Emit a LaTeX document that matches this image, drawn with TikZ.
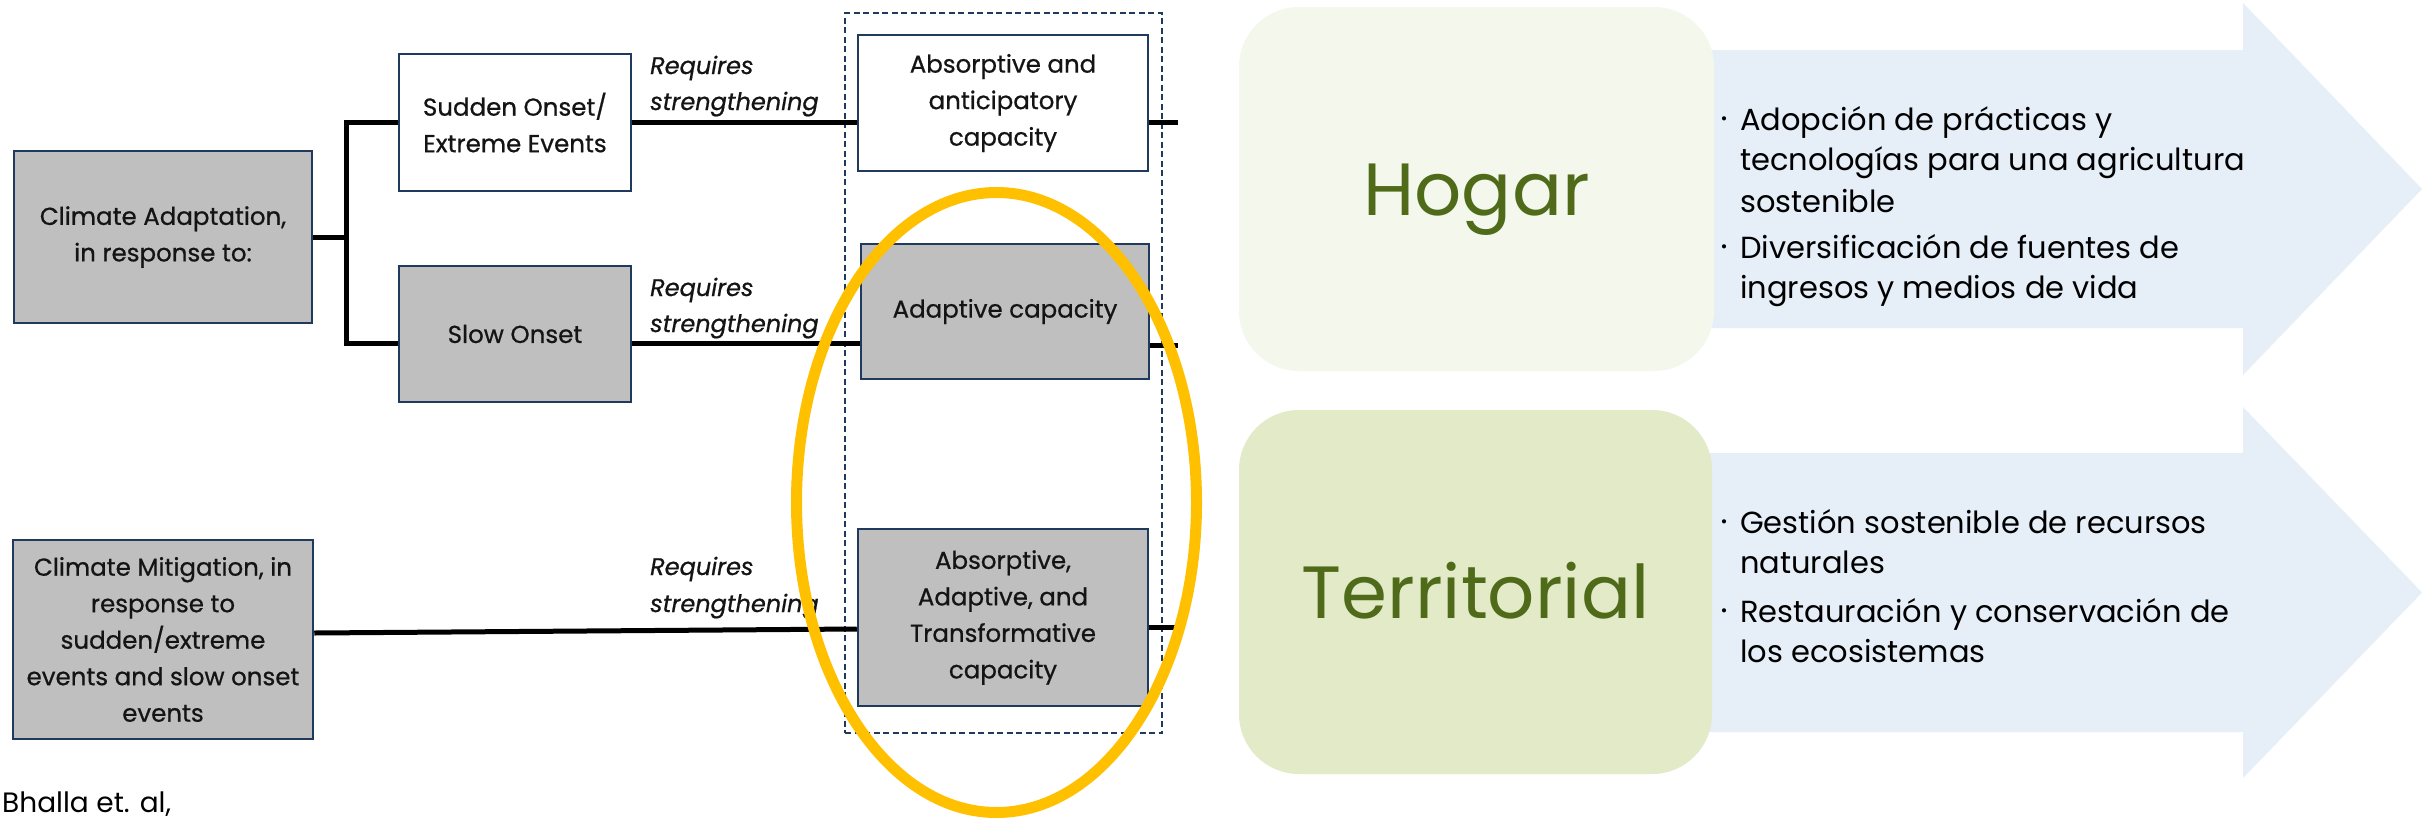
\documentclass[tikz,border=0pt]{standalone}
\usepackage{fontspec}
\setmainfont{Poppins}
\newfontfamily\lft[FakeBold=0.7]{Poppins}
\usetikzlibrary{calc}
\definecolor{navy}{HTML}{1F3A5C}
\definecolor{boxgray}{HTML}{BFBFBF}
\definecolor{ellc}{HTML}{FFC000}
\definecolor{hogarfill}{HTML}{F3F7EC}
\definecolor{terrfill}{HTML}{E2EAC8}
\definecolor{arrowc}{HTML}{E6EEF7}
\definecolor{leaf}{HTML}{4F6B1A}
\definecolor{txt}{HTML}{141414}
\begin{document}
\begin{tikzpicture}[x=1pt,y=-1pt,
  box/.style={draw=navy, line width=2.5pt, inner sep=0pt, align=center,
    font=\lft\fontsize{24.5}{36.5}\selectfont, text=txt},
  graybox/.style={box, fill=boxgray},
  whitebox/.style={box, fill=white},
  conn/.style={line width=5pt, black},
  req/.style={anchor=base west, inner sep=0pt, font=\lft\itshape\fontsize{24}{30}\selectfont, text=txt},
  cat/.style={rounded corners=60pt, inner sep=0pt, text height=52pt, text depth=0pt,
    font=\fontsize{74}{80}\selectfont, text=leaf},
  btxt/.style={anchor=base west, inner sep=0pt, font=\fontsize{30.5}{36}\selectfont, text=black},
  bul/.style={anchor=center, inner sep=0pt, font=\fontsize{17}{20}\selectfont, text=black},
]
\useasboundingbox (0,0) rectangle (2422,825);
\fill[white] (0,0) rectangle (2422,825);

% ---------- left diagram ----------
\node[graybox, minimum width=298pt, minimum height=172pt] (ca) at (163,237)
  {Climate Adaptation,\\in response to:};
\node[graybox, minimum width=300pt, minimum height=199pt] (cm) at (163,639.5)
  {Climate Mitigation, in\\response to\\sudden/extreme\\events and slow onset\\events};
\node[whitebox, minimum width=232pt, minimum height=137pt] (so) at (515,122.5)
  {Sudden Onset/\\Extreme Events};
\node[graybox, minimum width=232pt, minimum height=136pt] (sl) at (515,334)
  {Slow Onset};
\node[draw=navy, line width=1.8pt, dash pattern=on 6pt off 3.5pt,
  minimum width=317pt, minimum height=720pt, inner sep=0pt] (grp) at (1003.5,373) {};
\node[whitebox, minimum width=290pt, minimum height=136pt] (ab) at (1003,103)
  {Absorptive and\\anticipatory\\capacity};
\node[graybox, minimum width=288pt, minimum height=135pt] (ad) at (1005,311.5)
  {Adaptive capacity};
\node[graybox, minimum width=290pt, minimum height=177pt] (at) at (1003,617.5)
  {Absorptive,\\Adaptive, and\\Transformative\\capacity};

\coordinate (br) at (346,0);
\coordinate (rend) at (1178,0);
\draw[conn] (ca.east) -- (ca.east -| br);
\draw[conn] (so.west) -- (so.west -| br) -- ($(sl.west -| br)+(0,9)$) -- ($(sl.west)+(0,9)$);
\draw[conn] (so.east) -- (so.east -| ab.west);
\draw[conn] (ab.east |- so.east) -- (so.east -| rend);
\draw[conn] ($(sl.east)+(0,9)$) -- ($(sl.east -| ad.west)+(0,9)$);
\draw[conn] ($(ad.east)+(0,33.5)$) -- ($(ad.east -| rend)+(0,33.5)$);
\draw[conn] ($(cm.east)+(0,-6.5)$) -- ($(at.west)+(0,11.5)$);
\draw[conn] ($(at.east)+(0,9.5)$) -- ($(at.east -| rend)+(0,9.5)$);

\node[req] (r1a) at (650,74) {Requires};
\node[req] (r1b) at (650,110) {strengthening};
\node[req] (r2a) at (650,296) {Requires};
\node[req] (r2b) at (650,332) {strengthening};
\node[req] (r3a) at (650,575) {Requires};
\node[req] (r3b) at (650,612) {strengthening};

\draw[ellc, line width=11pt] (996.5,502.5) ellipse [x radius=200, y radius=310];

\node[anchor=base west, inner sep=0pt, font=\fontsize{28}{32}\selectfont, text=black] (src) at (2,812) {Bhalla et. al,};

% ---------- right diagram ----------
\fill[arrowc] (1700,50) -- (2243,50) -- (2243,3) -- (2422,189) -- (2243,375) -- (2243,328) -- (1700,328) -- cycle;
\fill[arrowc] (1700,453) -- (2243,453) -- (2243,407) -- (2422,592.5) -- (2243,778) -- (2243,732) -- (1700,732) -- cycle;

\node[cat, fill=hogarfill, minimum width=475pt, minimum height=364pt] (hog) at (1476.5,189) {Hogar};
\node[cat, fill=terrfill, minimum width=473pt, minimum height=364pt] (ter) at (1475.5,592) {Territorial};

\node[bul] (b1) at (1724,121) {•};
\node[btxt] (h1a) at (1740,130) {Adopción de prácticas y};
\node[btxt] (h1b) at (1740,170) {tecnologías para una agricultura};
\node[btxt] (h1c) at (1740,212) {sostenible};
\node[bul] (b2) at (1724,249) {•};
\node[btxt] (h2a) at (1740,258) {Diversificación de fuentes de};
\node[btxt] (h2b) at (1740,298) {ingresos y medios de vida};

\node[bul] (b3) at (1724,524) {•};
\node[btxt] (t1a) at (1740,533) {Gestión sostenible de recursos};
\node[btxt] (t1b) at (1740,573) {naturales};
\node[bul] (b4) at (1724,613) {•};
\node[btxt] (t2a) at (1740,622) {Restauración y conservación de};
\node[btxt] (t2b) at (1740,662) {los ecosistemas};
\end{tikzpicture}
\end{document}
